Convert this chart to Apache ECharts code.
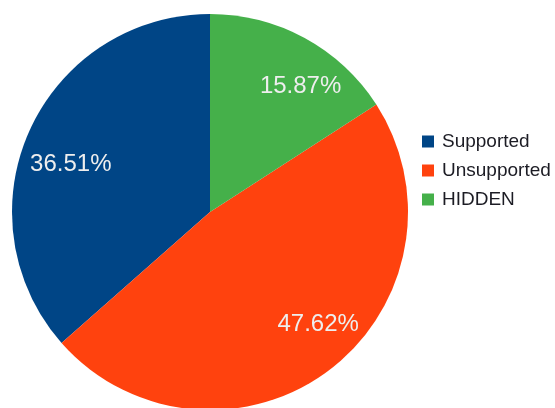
<!DOCTYPE html>
<html>
<head>
<meta charset="utf-8">
<script src="https://cdn.jsdelivr.net/npm/echarts@6/dist/echarts.min.js"></script>
<style>
html,body{margin:0;padding:0;background:#fff;}
#chart{width:555px;height:408px;}
</style>
</head>
<body>
<div id="chart"></div>
<script>
// Data
const categories = ['Supported', 'Unsupported', 'HIDDEN'];
const counts = [23, 30, 10];
const colors = ['#004586', '#ff420e', '#45b04a'];
// label nudges (style only)
const labelOffsets = [[3, 17], [14, -12], [16, 11]];

const chart = echarts.init(document.getElementById('chart'), null, {renderer: 'canvas'});
const total = counts.reduce((a, b) => a + b, 0);

const mainData = categories.map((c, i) => ({
  name: c, value: counts[i], itemStyle: {color: colors[i]}
}));
const labelData = categories.map((c, i) => ({
  name: c, value: counts[i],
  itemStyle: {color: 'rgba(0,0,0,0)'},
  label: {offset: labelOffsets[i]}
}));

chart.setOption({
  animation: false,
  backgroundColor: '#ffffff',
  legend: {
    orient: 'vertical',
    left: 417,
    top: 127,
    itemWidth: 12,
    itemHeight: 12,
    itemGap: 10,
    icon: 'rect',
    data: categories,
    textStyle: {
      fontFamily: 'Liberation Sans',
      fontSize: 19,
      color: '#1c1c24',
      padding: [0, 0, 0, 3]
    }
  },
  series: [
    {
      type: 'pie',
      center: [210, 212],
      radius: [0, 198],
      startAngle: 90,
      clockwise: false,
      avoidLabelOverlap: false,
      label: {show: false},
      labelLine: {show: false},
      itemStyle: {borderWidth: 0},
      emphasis: {disabled: true},
      data: mainData
    },
    {
      type: 'pie',
      center: [210, 212],
      radius: [108, 198],
      startAngle: 90,
      clockwise: false,
      silent: true,
      legendHoverLink: false,
      avoidLabelOverlap: false,
      labelLine: {show: false},
      itemStyle: {borderWidth: 0},
      label: {
        show: true,
        position: 'inside',
        fontFamily: 'Liberation Sans',
        fontSize: 24,
        color: '#eeeeee',
        formatter: p => (p.value / total * 100).toFixed(2) + '%'
      },
      data: labelData
    }
  ]
});
</script>
</body>
</html>
